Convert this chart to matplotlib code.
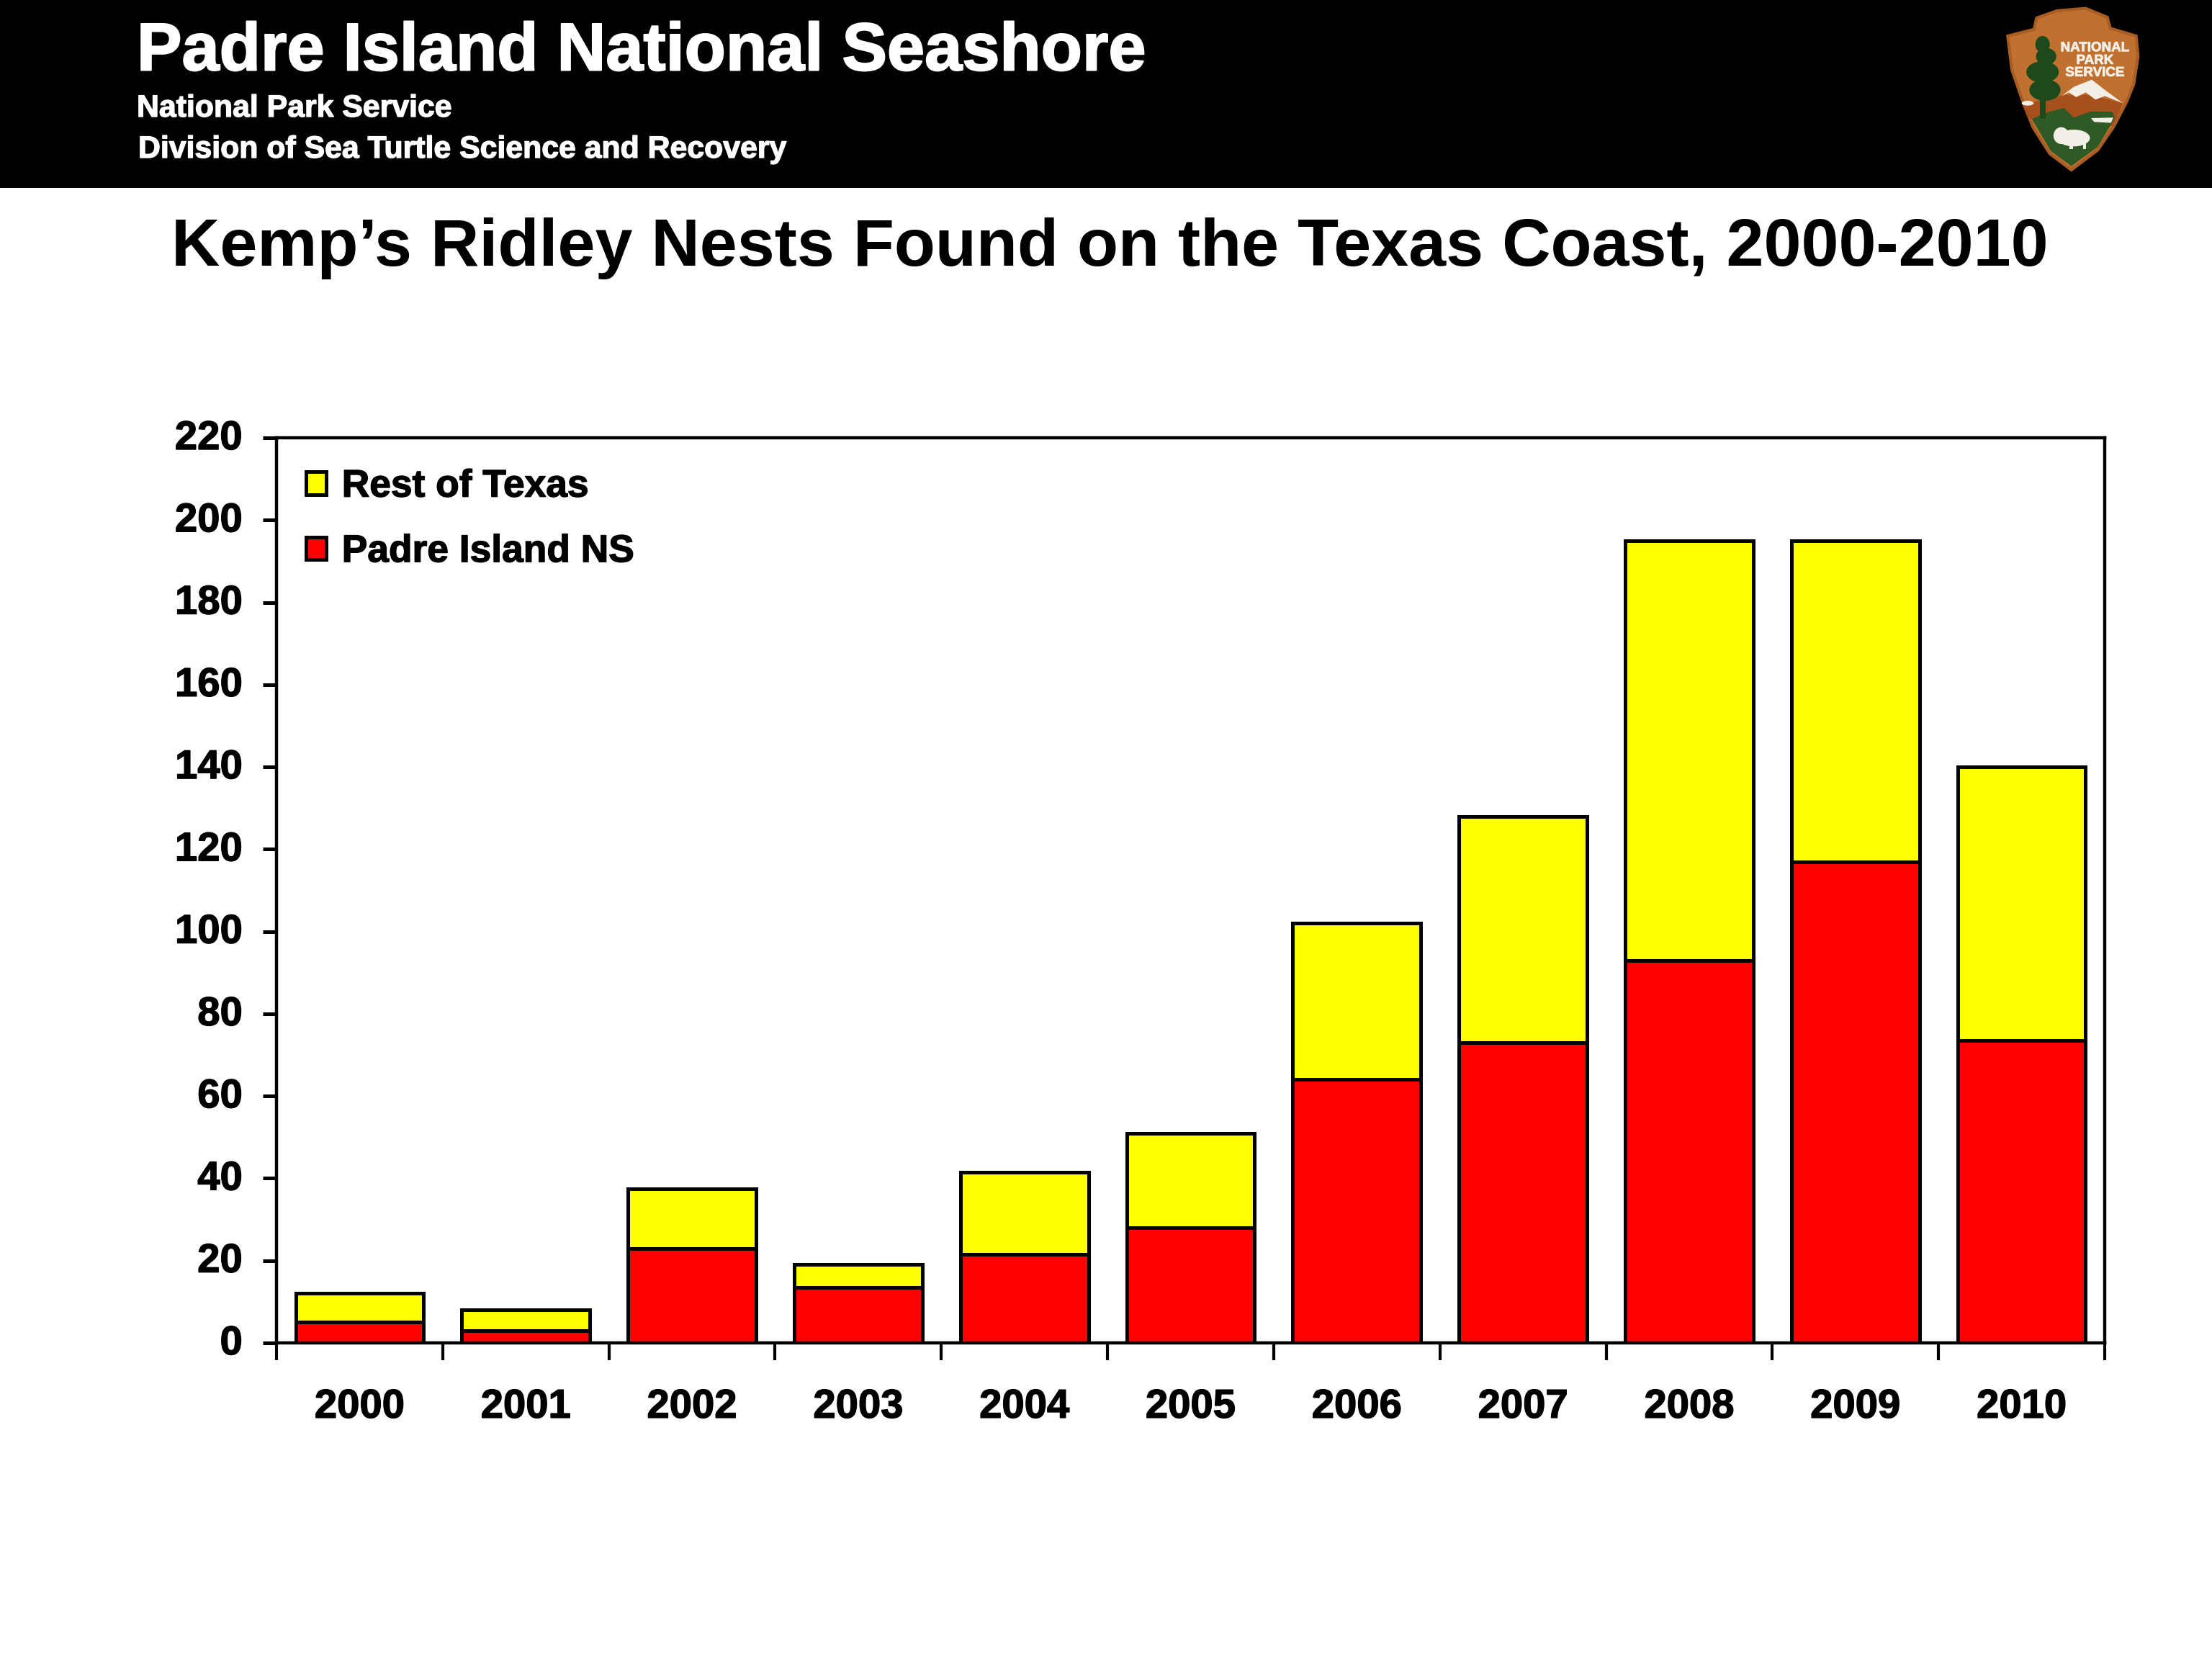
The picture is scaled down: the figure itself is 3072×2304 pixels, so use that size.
#!/usr/bin/env python

import matplotlib
matplotlib.use("Agg")
import matplotlib.patheffects as pe
import matplotlib.pyplot as plt
from matplotlib.patches import Ellipse, Patch, Polygon, Rectangle
from matplotlib.transforms import ScaledTranslation

plt.rcParams["font.family"] = ["Liberation Sans", "DejaVu Sans"]
plt.rcParams["font.weight"] = "bold"

years = ["2000", "2001", "2002", "2003", "2004", "2005",
         "2006", "2007", "2008", "2009", "2010"]
padre_island = [5, 3, 23, 13.5, 21.5, 28, 64, 73, 93, 117, 73.5]
rest_of_texas = [7, 5, 14.5, 5.5, 20, 23, 38, 55, 102, 78, 66.5]
y_ticks = list(range(0, 221, 20))

W, H = 3072, 2304
BROWN = "#c0702f"
GREEN = "#2f5a25"
DARK_GREEN = "#1d4a1c"
SNOW = "#f4efe6"


def box(left, top, right, bottom):
    '''figure fraction rect from pixel edges'''
    return [left / W, 1 - bottom / H, (right - left) / W, (bottom - top) / H]


def heavy(color, width=1.0):
    '''thickens the bold face a little'''
    return [pe.withStroke(linewidth=width, foreground=color)]


def draw_logo(fig):
    '''arrowhead emblem, drawn in its own 1116 x 810 coordinate box'''
    ax = fig.add_axes(box(2700, 0, 3072, 270))
    ax.set_xlim(0, 1116)
    ax.set_ylim(810, 0)
    ax.axis("off")

    outline = [(385, 75), (470, 45), (590, 35), (680, 72), (692, 118),
               (800, 150), (808, 235), (790, 350), (760, 425), (705, 530),
               (640, 625), (530, 708), (440, 640), (370, 530), (320, 400),
               (282, 290), (265, 150), (375, 122)]
    ax.add_patch(Polygon(outline, closed=True, fc=BROWN, ec="#a85d25", lw=3))

    # lower slope and meadow
    ax.add_patch(Polygon([(325, 435), (500, 395), (610, 395), (745, 430),
                          (705, 525), (350, 495)], closed=True,
                         fc="#a8501c", ec="none"))
    ax.add_patch(Polygon([(365, 495), (440, 465), (500, 450), (540, 490),
                          (610, 465), (700, 465), (712, 490), (640, 612),
                          (530, 692), (445, 630)], closed=True,
                         fc=GREEN, ec="none"))

    # mountain and snow patches
    ax.add_patch(Polygon([(490, 400), (540, 362), (615, 332), (670, 375),
                          (745, 430), (670, 400), (630, 415), (590, 385),
                          (550, 405), (520, 385)], closed=True,
                         fc=SNOW, ec="none"))
    ax.add_patch(Ellipse((348, 430), 50, 20, fc=SNOW, ec="none"))
    ax.add_patch(Polygon([(612, 492), (705, 490), (695, 512), (625, 508)],
                         closed=True, fc=SNOW, ec="none"))

    # tree: trunk plus canopy clumps
    ax.add_patch(Rectangle((398, 400), 24, 95, fc=DARK_GREEN, ec="none"))
    for cx, cy, w, h in [(410, 185, 60, 70), (425, 235, 85, 70),
                         (410, 300, 135, 90), (420, 375, 130, 90)]:
        ax.add_patch(Ellipse((cx, cy), w, h, fc=DARK_GREEN, ec="none"))

    # bison
    ax.add_patch(Ellipse((540, 575), 135, 70, fc=SNOW, ec="none"))
    ax.add_patch(Ellipse((488, 565), 65, 70, fc=SNOW, ec="none"))
    ax.add_patch(Rectangle((522, 590), 14, 32, fc=SNOW, ec="none"))
    ax.add_patch(Rectangle((578, 590), 14, 32, fc=SNOW, ec="none"))

    for label, y in [("NATIONAL", 200), ("PARK", 253), ("SERVICE", 304)]:
        ax.text(628, y, label, color=SNOW, fontsize=13.5, ha="center", va="center",
                path_effects=heavy(SNOW, 0.6))


def main():
    fig = plt.figure(figsize=(W / 100, H / 100), dpi=100, facecolor="white")

    # header band sits behind the emblem axes
    fig.patches.append(Rectangle((0, 1 - 261 / H), 1, 261 / H, zorder=-1,
                                 transform=fig.transFigure, fc="black", ec="none"))
    fig.text(190 / W, 1 - 73 / H, "Padre Island National Seashore", color="white",
             fontsize=67.5, va="center", ha="left", path_effects=heavy("white", 1.5))
    fig.text(190 / W, 1 - 151 / H, "National Park Service", color="white",
             fontsize=30.8, va="center", ha="left", path_effects=heavy("white"))
    fig.text(192 / W, 1 - 208 / H, "Division of Sea Turtle Science and Recovery",
             color="white", fontsize=30.8, va="center", ha="left",
             path_effects=heavy("white"))
    fig.text(1541 / W, 1 - 345 / H, "Kemp\u2019s Ridley Nests Found on the Texas Coast, 2000-2010",
             color="black", fontsize=67.2, va="center", ha="center")
    draw_logo(fig)

    ax = fig.add_axes(box(384, 608, 2923, 1865))
    x = range(len(years))
    ax.bar(x, padre_island, width=0.77, color="#ff0000", edgecolor="black", linewidth=3.6)
    ax.bar(x, rest_of_texas, width=0.77, bottom=padre_island, color="#ffff00",
           edgecolor="black", linewidth=3.6)

    ax.set_xlim(-0.5, len(years) - 0.5)
    ax.set_ylim(0, 220)
    ax.set_yticks(y_ticks)
    ax.tick_params(axis="y", length=14, width=3.6, labelsize=40.5, pad=20)

    # ticks fall between the bars, labels stay centred under them
    ax.set_xticks([i - 0.5 for i in range(len(years) + 1)])
    ax.set_xticklabels([])
    ax.set_xticks(list(x), labels=years, minor=True)
    ax.tick_params(axis="x", which="major", length=17, width=3)
    ax.tick_params(axis="x", which="minor", length=0, labelsize=40.5, pad=46)

    # y labels ride slightly above their ticks
    lift = ScaledTranslation(0, 4 / 100, fig.dpi_scale_trans)
    for label in ax.get_yticklabels():
        label.set_transform(label.get_transform() + lift)
        label.set_path_effects(heavy("black"))
    for label in ax.get_xticklabels(minor=True):
        label.set_path_effects(heavy("black"))

    for spine in ax.spines.values():
        spine.set_linewidth(3.2)
        spine.set_zorder(5)

    handles = [Patch(fc="#ffff00", ec="black", lw=3.6, label="Rest of Texas"),
               Patch(fc="#ff0000", ec="black", lw=3.6, label="Padre Island NS")]
    legend = ax.legend(handles=handles, loc="upper left", frameon=False, fontsize=38.4,
                       handlelength=0.53, handleheight=0.53, handletextpad=0.4,
                       labelspacing=0.76, borderaxespad=0,
                       bbox_to_anchor=(0.0078, 0.983))
    for text in legend.get_texts():
        text.set_path_effects(heavy("black"))

    fig.savefig("out.png", dpi=100)


if __name__ == "__main__":
    main()
